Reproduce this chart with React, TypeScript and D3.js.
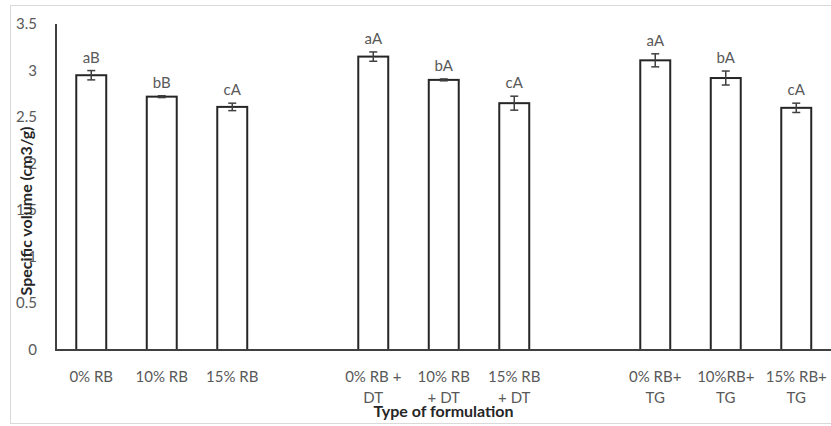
import { useEffect, useRef } from 'react'
import * as d3 from 'd3'

// Excel-style layout: blank slots between the three formulation groups
const categories = [
  '0% RB', '10% RB', '15% RB', '',
  '0% RB +\nDT', '10% RB\n+ DT', '15% RB\n+ DT', '',
  '0% RB+\nTG', '10%RB+\nTG', '15% RB+\nTG',
]
const values = [2.95, 2.72, 2.61, null, 3.15, 2.9, 2.65, null, 3.11, 2.92, 2.6]
const errors = [0.05, 0.01, 0.04, null, 0.05, 0.01, 0.075, null, 0.07, 0.075, 0.05]
const letters = ['aB', 'bB', 'cA', '', 'aA', 'bA', 'cA', '', 'aA', 'bA', 'cA']
const yTicks = [0, 0.5, 1, 1.5, 2, 2.5, 3, 3.5]

const W = 831
const H = 426
const FONT = 'Lato, "Open Sans", sans-serif'

export default function App() {
  const ref = useRef<SVGSVGElement>(null)

  useEffect(() => {
    const svg = d3.select(ref.current)
    svg.selectAll('*').remove()

    const margin = { top: 24, right: 0, bottom: 76, left: 56 }

    // chart frame
    svg.append('rect')
      .attr('x', 10.5).attr('y', 5.5)
      .attr('width', 830).attr('height', 418)
      .attr('fill', 'white')
      .attr('stroke', '#d9d9d9')

    const x = d3.scaleBand<number>()
      .domain(d3.range(categories.length))
      .range([margin.left, W + 0.5])
      .paddingInner(0.575)
      .paddingOuter(0.2875)

    const y = d3.scaleLinear()
      .domain([0, 3.5])
      .range([H - margin.bottom, margin.top])

    // y tick labels
    svg.append('g')
      .selectAll('text')
      .data(yTicks)
      .join('text')
      .attr('x', 37)
      .attr('y', d => y(d) + 5)
      .attr('text-anchor', 'end')
      .style('font-family', FONT)
      .style('font-size', '15px')
      .style('fill', '#595959')
      .text(d => d)

    const idx = d3.range(categories.length).filter(i => values[i] != null)

    // bars
    svg.append('g')
      .selectAll('rect')
      .data(idx)
      .join('rect')
      .attr('x', i => x(i)!)
      .attr('y', i => y(values[i]!))
      .attr('width', x.bandwidth())
      .attr('height', i => y(0) - y(values[i]!))
      .attr('fill', 'white')
      .attr('stroke', '#262626')
      .attr('stroke-width', 2)

    // error bars
    const eb = svg.append('g')
      .attr('stroke', '#404040')
      .attr('stroke-width', 1.5)
    idx.forEach(i => {
      const cx = x(i)! + x.bandwidth() / 2
      const lo = y(values[i]! - errors[i]!)
      const hi = y(values[i]! + errors[i]!)
      eb.append('line').attr('x1', cx).attr('x2', cx).attr('y1', lo).attr('y2', hi)
      eb.append('line').attr('x1', cx - 4).attr('x2', cx + 4).attr('y1', lo).attr('y2', lo)
      eb.append('line').attr('x1', cx - 4).attr('x2', cx + 4).attr('y1', hi).attr('y2', hi)
    })

    // significance letters
    svg.append('g')
      .selectAll('text')
      .data(idx)
      .join('text')
      .attr('x', i => x(i)! + x.bandwidth() / 2)
      .attr('y', i => y(values[i]! + errors[i]!) - 8)
      .attr('text-anchor', 'middle')
      .style('font-family', FONT)
      .style('font-size', '15px')
      .style('fill', '#595959')
      .text(i => letters[i])

    // axes lines
    svg.append('line')
      .attr('x1', margin.left).attr('x2', margin.left)
      .attr('y1', margin.top).attr('y2', y(0))
      .attr('stroke', '#404040').attr('stroke-width', 2)
    svg.append('line')
      .attr('x1', margin.left - 1).attr('x2', W)
      .attr('y1', y(0)).attr('y2', y(0))
      .attr('stroke', '#404040').attr('stroke-width', 2)

    // category labels
    const cat = svg.append('g')
      .selectAll('text')
      .data(d3.range(categories.length).filter(i => categories[i]))
      .join('text')
      .attr('text-anchor', 'middle')
      .style('font-family', FONT)
      .style('font-size', '15px')
      .style('fill', '#595959')
    cat.selectAll('tspan')
      .data(i => categories[i].split('\n').map(t => ({ t, i })))
      .join('tspan')
      .attr('x', d => x(d.i)! + x.bandwidth() / 2)
      .attr('y', (d, k) => y(0) + 32 + k * 21)
      .text(d => d.t)

    // axis titles
    svg.append('text')
      .attr('x', (margin.left + W) / 2)
      .attr('y', 417)
      .attr('text-anchor', 'middle')
      .style('font-family', FONT)
      .style('font-size', '16px')
      .style('font-weight', 'bold')
      .style('fill', '#262626')
      .text('Type of formulation')

    svg.append('text')
      .attr('transform', 'translate(32,211) rotate(-90)')
      .attr('text-anchor', 'middle')
      .style('font-family', FONT)
      .style('font-size', '16px')
      .style('font-weight', 'bold')
      .style('fill', '#262626')
      .text('Specific volume (cm3/g)')
  }, [])

  return (
    <svg
      ref={ref}
      width={W}
      height={H}
      style={{ position: 'absolute', left: 0, top: 0, background: 'white' }}
    />
  )
}
